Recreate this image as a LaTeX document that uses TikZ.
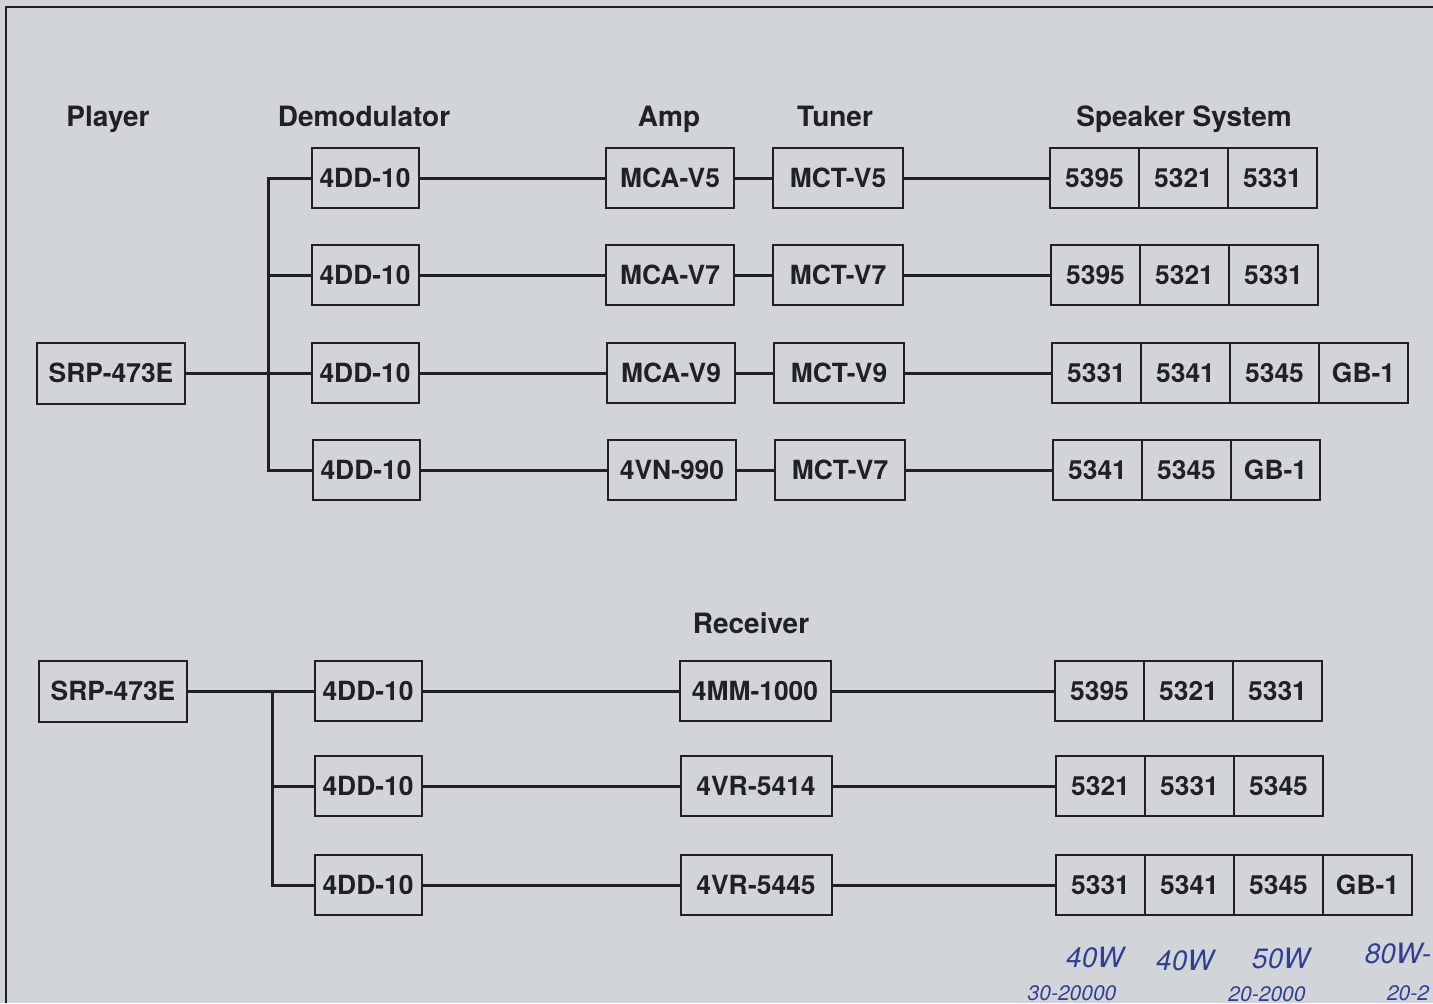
\documentclass[tikz,border=0pt]{standalone}
\usepackage{fontspec}
\setmainfont{TeX Gyre Heros}
\usetikzlibrary{positioning}
\definecolor{paper}{RGB}{210,213,216}
\definecolor{ink}{RGB}{33,33,36}
\definecolor{pen}{RGB}{48,62,150}

\begin{document}
\begin{tikzpicture}[x=0.5pt,y=-0.5pt,semithick]
 \tikzstyle{unit node}=[rectangle,draw=ink,line width=1pt,outer sep=0,inner sep=0,text=ink,font=\bfseries\fontsize{13.2}{16}\selectfont,text height=9.5pt,text depth=0pt,minimum height=30pt]
 \tikzstyle{head node}=[text=ink,font=\bfseries\fontsize{14}{16}\selectfont,text height=10pt,text depth=0pt,inner sep=0]
 \tikzset{
 	player node/.style={unit node,minimum width=74pt,minimum height=30.5pt},
 	demod node/.style={unit node,minimum width=53.5pt},
 	amp node/.style={unit node,minimum width=64pt},
 	tuner node/.style={unit node,minimum width=65pt},
 	recv node/.style={unit node,minimum width=75.5pt},
 	cell node/.style={unit node,minimum width=44.5pt},
 	wire/.style={draw=ink,line width=1.5pt},
 	note/.style={text=pen,font=\itshape\fontsize{14}{16}\selectfont,inner sep=0},
 	small note/.style={note,font=\itshape\fontsize{10.5}{12}\selectfont}
 }

 \fill[paper] (0,0) rectangle (1433,1003);
 \useasboundingbox (0,0) rectangle (1433,1003);
 \draw[ink,line width=1pt] (6,1003) -- (6,7) -- (1433,7);

 % headings
       \node[head node] (hplayer) at (108,116) {Player};
       \node[head node] (hdemod) at (364,116) {Demodulator};
       \node[head node] (hamp) at (669,116) {Amp};
       \node[head node] (htuner) at (835,116) {Tuner};
       \node[head node] (hspk) at (1184,116) {Speaker System};
       \node[head node] (hrecv) at (751,623) {Receiver};

 % upper chain
       \node[player node] (p1) at (111,373) {SRP-473E};
       \coordinate (bus1) at (268,0);

       \node[demod node] (d1) at (365,178) {4DD-10};
       \node[demod node] (d2) at (365,275) {4DD-10};
       \node[demod node] (d3) at (365,373) {4DD-10};
       \node[demod node] (d4) at (366,470) {4DD-10};

       \node[amp node] (a1) at (670,178) {MCA-V5};
       \node[amp node] (a2) at (670,275) {MCA-V7};
       \node[amp node] (a3) at (671,373) {MCA-V9};
       \node[amp node] (a4) at (672,470) {4VN-990};

       \node[tuner node] (t1) at (838,178) {MCT-V5};
       \node[tuner node] (t2) at (838,275) {MCT-V7};
       \node[tuner node] (t3) at (839,373) {MCT-V9};
       \node[tuner node] (t4) at (840,470) {MCT-V7};

       \node[cell node,anchor=west] (s11) at (1050,178) {5395};
       \node[cell node] (s12) [right=0pt of s11] {5321};
       \node[cell node] (s13) [right=0pt of s12] {5331};

       \node[cell node,anchor=west] (s21) at (1051,275) {5395};
       \node[cell node] (s22) [right=0pt of s21] {5321};
       \node[cell node] (s23) [right=0pt of s22] {5331};

       \node[cell node,anchor=west] (s31) at (1052,373) {5331};
       \node[cell node] (s32) [right=0pt of s31] {5341};
       \node[cell node] (s33) [right=0pt of s32] {5345};
       \node[cell node] (s34) [right=0pt of s33] {GB-1};

       \node[cell node,anchor=west] (s41) at (1053,470) {5341};
       \node[cell node] (s42) [right=0pt of s41] {5345};
       \node[cell node] (s43) [right=0pt of s42] {GB-1};

 % lower chain
       \node[player node] (p2) at (113,691) {SRP-473E};
       \coordinate (bus2) at (272,0);

       \node[demod node] (e1) at (368,691) {4DD-10};
       \node[demod node] (e2) at (368,786) {4DD-10};
       \node[demod node] (e3) at (368,885) {4DD-10};

       \node[recv node] (r1) at (755,691) {4MM-1000};
       \node[recv node] (r2) at (756,786) {4VR-5414};
       \node[recv node] (r3) at (756,885) {4VR-5445};

       \node[cell node,anchor=west] (u11) at (1055,691) {5395};
       \node[cell node] (u12) [right=0pt of u11] {5321};
       \node[cell node] (u13) [right=0pt of u12] {5331};

       \node[cell node,anchor=west] (u21) at (1056,786) {5321};
       \node[cell node] (u22) [right=0pt of u21] {5331};
       \node[cell node] (u23) [right=0pt of u22] {5345};

       \node[cell node,anchor=west] (u31) at (1056,885) {5331};
       \node[cell node] (u32) [right=0pt of u31] {5341};
       \node[cell node] (u33) [right=0pt of u32] {5345};
       \node[cell node] (u34) [right=0pt of u33] {GB-1};

 % handwritten notes
       \node[note] (w1) at (1095,957) {40W};
       \node[note] (w2) at (1185,960) {40W};
       \node[note] (w3) at (1281,958) {50W};
       \node[note] (w4) at (1398,953) {80W-};
       \node[small note] (f1) at (1072,993) {30-20000};
       \node[small note] (f2) at (1267,994) {20-2000};
       \node[small note] (f3) at (1408,993) {20-2};

 % wires
     \path[wire] (p1) -- (d3);
     \path[wire] (d1.west) -- (d1.west -| bus1) -- (d4.west -| bus1) -- (d4.west);
     \path[wire] (d2.west) -- (d2.west -| bus1);
     \path[wire] (d1) -- (a1) (a1) -- (t1) (t1) -- (s11);
     \path[wire] (d2) -- (a2) (a2) -- (t2) (t2) -- (s21);
     \path[wire] (d3) -- (a3) (a3) -- (t3) (t3) -- (s31);
     \path[wire] (d4) -- (a4) (a4) -- (t4) (t4) -- (s41);

     \path[wire] (p2) -- (e1);
     \path[wire] (e1.west -| bus2) -- (e3.west -| bus2) -- (e3.west);
     \path[wire] (e2.west) -- (e2.west -| bus2);
     \path[wire] (e1) -- (r1) (r1) -- (u11);
     \path[wire] (e2) -- (r2) (r2) -- (u21);
     \path[wire] (e3) -- (r3) (r3) -- (u31);
 \end{tikzpicture}
\end{document}
